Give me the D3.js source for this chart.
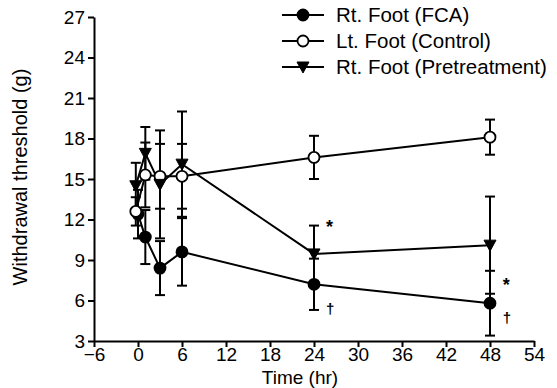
<!doctype html>
<html>
<head>
<meta charset="utf-8">
<title>Withdrawal threshold</title>
<script src="https://d3js.org/d3.v7.min.js"></script>
<style>
body { margin: 0; background: white; }
svg { display: block; font-family: "Liberation Sans", Arial, sans-serif; }
</style>
</head>
<body>
<div id="chart1"></div>
<script>
// data
var times = [-0.3, 1, 3, 6, 24, 48];
var fcaTimes = [0, 1, 3, 6, 24, 48];

var fcaMean = [12.4, 10.7, 8.4, 9.6, 7.2, 5.8];
var fcaErr = [1.8, 2.0, 2.0, 2.5, 1.9, 2.4];

var ctrlMean = [12.6, 15.3, 15.2, 15.2, 16.6, 18.1];
var ctrlErr = [1.05, 2.4, 2.4, 2.4, 1.6, 1.3];

var preMean = [14.5, 16.9, 14.6, 16.1, 9.45, 10.1];
var preErr = [1.7, 1.95, 4.0, 3.9, 2.1, 3.6];

var xTicks = [-6, 0, 6, 12, 18, 24, 30, 36, 42, 48, 54];
var yTicks = [3, 6, 9, 12, 15, 18, 21, 24, 27];

var legendLabels = ["Rt. Foot (FCA)", "Lt. Foot (Control)", "Rt. Foot (Pretreatment)"];

// significance marks
var marks = [
  { t: 26.1, v: 11.5, s: "*" },
  { t: 26.2, v: 5.4, s: "\u2020" },
  { t: 50.2, v: 7.2, s: "*" },
  { t: 50.3, v: 4.7, s: "\u2020" }
];

var W = 557, H = 388;
var margin = { top: 17, right: 23, bottom: 47, left: 94 },
  width = W - margin.left - margin.right,
  height = H - margin.top - margin.bottom;

var svg = d3.select("#chart1")
  .append("svg")
  .attr("width", W)
  .attr("height", H)
  .append("g")
  .attr("transform", "translate(" + margin.left + "," + margin.top + ")");

var x = d3.scaleLinear().domain([-6, 54]).range([0, width]);
var y = d3.scaleLinear().domain([3, 27]).range([height, 0]);

// axes
var xAxis = svg.append("g")
  .attr("transform", "translate(0," + height + ")")
  .call(d3.axisBottom(x).tickValues(xTicks).tickSize(6).tickSizeOuter(0));
var yAxis = svg.append("g")
  .call(d3.axisLeft(y).tickValues(yTicks).tickSize(6).tickSizeOuter(0));

[xAxis, yAxis].forEach(function(a) {
  a.selectAll("path, line").attr("stroke", "#000").attr("stroke-width", 2);
  a.selectAll("text").attr("font-size", "19px").attr("fill", "#000")
    .attr("font-family", "Liberation Sans, Arial, sans-serif");
});
xAxis.selectAll("text").attr("dy", "0.6em");

svg.append("text")
  .attr("x", width / 2 - 14)
  .attr("y", height + 43)
  .attr("text-anchor", "middle")
  .attr("font-size", "19px")
  .text("Time (hr)");

svg.append("text")
  .attr("transform", "rotate(-90)")
  .attr("x", -height / 2 + 2)
  .attr("y", -67)
  .attr("text-anchor", "middle")
  .attr("font-size", "20px")
  .text("Withdrawal threshold (g)");

function makeSeries(ts, mean, err) {
  return ts.map(function(t, i) { return { t: t, v: mean[i], e: err[i] }; });
}

var series = [
  { name: legendLabels[0], data: makeSeries(fcaTimes, fcaMean, fcaErr), symbol: "circle", fill: "#000" },
  { name: legendLabels[1], data: makeSeries(times, ctrlMean, ctrlErr), symbol: "circle", fill: "#fff" },
  { name: legendLabels[2], data: makeSeries(times, preMean, preErr), symbol: "tri", fill: "#000" }
];

var line = d3.line()
  .x(function(d) { return x(d.t); })
  .y(function(d) { return y(d.v); });

var capW = 5;

// error bars first, then lines, then markers
series.forEach(function(s) {
  var g = svg.append("g");
  s.data.forEach(function(d) {
    g.append("line")
      .attr("x1", x(d.t)).attr("x2", x(d.t))
      .attr("y1", y(d.v - d.e)).attr("y2", y(d.v + d.e))
      .attr("stroke", "#000").attr("stroke-width", 2);
    [d.v - d.e, d.v + d.e].forEach(function(c) {
      g.append("line")
        .attr("x1", x(d.t) - capW).attr("x2", x(d.t) + capW)
        .attr("y1", y(c)).attr("y2", y(c))
        .attr("stroke", "#000").attr("stroke-width", 2);
    });
  });
});

series.forEach(function(s) {
  svg.append("path")
    .datum(s.data)
    .attr("d", line)
    .attr("fill", "none")
    .attr("stroke", "#000")
    .attr("stroke-width", 2);
});

function drawMarker(g, s, cx, cy) {
  if (s.symbol === "circle") {
    g.append("circle")
      .attr("cx", cx).attr("cy", cy).attr("r", 5.5)
      .attr("fill", s.fill).attr("stroke", "#000").attr("stroke-width", 1.8);
  } else {
    g.append("path")
      .attr("d", "M" + (cx - 6) + "," + (cy - 5) + "L" + (cx + 6) + "," + (cy - 5) + "L" + cx + "," + (cy + 6) + "Z")
      .attr("fill", "#000").attr("stroke", "#000").attr("stroke-width", 1);
  }
}

series.forEach(function(s) {
  var g = svg.append("g");
  s.data.forEach(function(d) { drawMarker(g, s, x(d.t), y(d.v)); });
});

svg.selectAll("text.mark")
  .data(marks)
  .enter()
  .append("text")
  .attr("class", "mark")
  .attr("x", function(d) { return x(d.t); })
  .attr("y", function(d) { return y(d.v); })
  .attr("font-size", function(d) { return d.s === "*" ? "18px" : "15px"; })
  .attr("font-weight", "bold")
  .attr("text-anchor", "middle")
  .attr("dy", "0.35em")
  .text(function(d) { return d.s; });

// legend
var legend = svg.append("g").attr("transform", "translate(" + (282 - margin.left) + ",0)");
series.forEach(function(s, i) {
  var ly = (15 + i * 26) - margin.top;
  legend.append("line")
    .attr("x1", 0).attr("x2", 42)
    .attr("y1", ly).attr("y2", ly)
    .attr("stroke", "#000").attr("stroke-width", 2);
  drawMarker(legend, s, 21, ly);
  legend.append("text")
    .attr("x", 54)
    .attr("y", ly)
    .attr("dy", "0.36em")
    .attr("font-size", "20.5px")
    .text(s.name);
});
</script>
</body>
</html>
